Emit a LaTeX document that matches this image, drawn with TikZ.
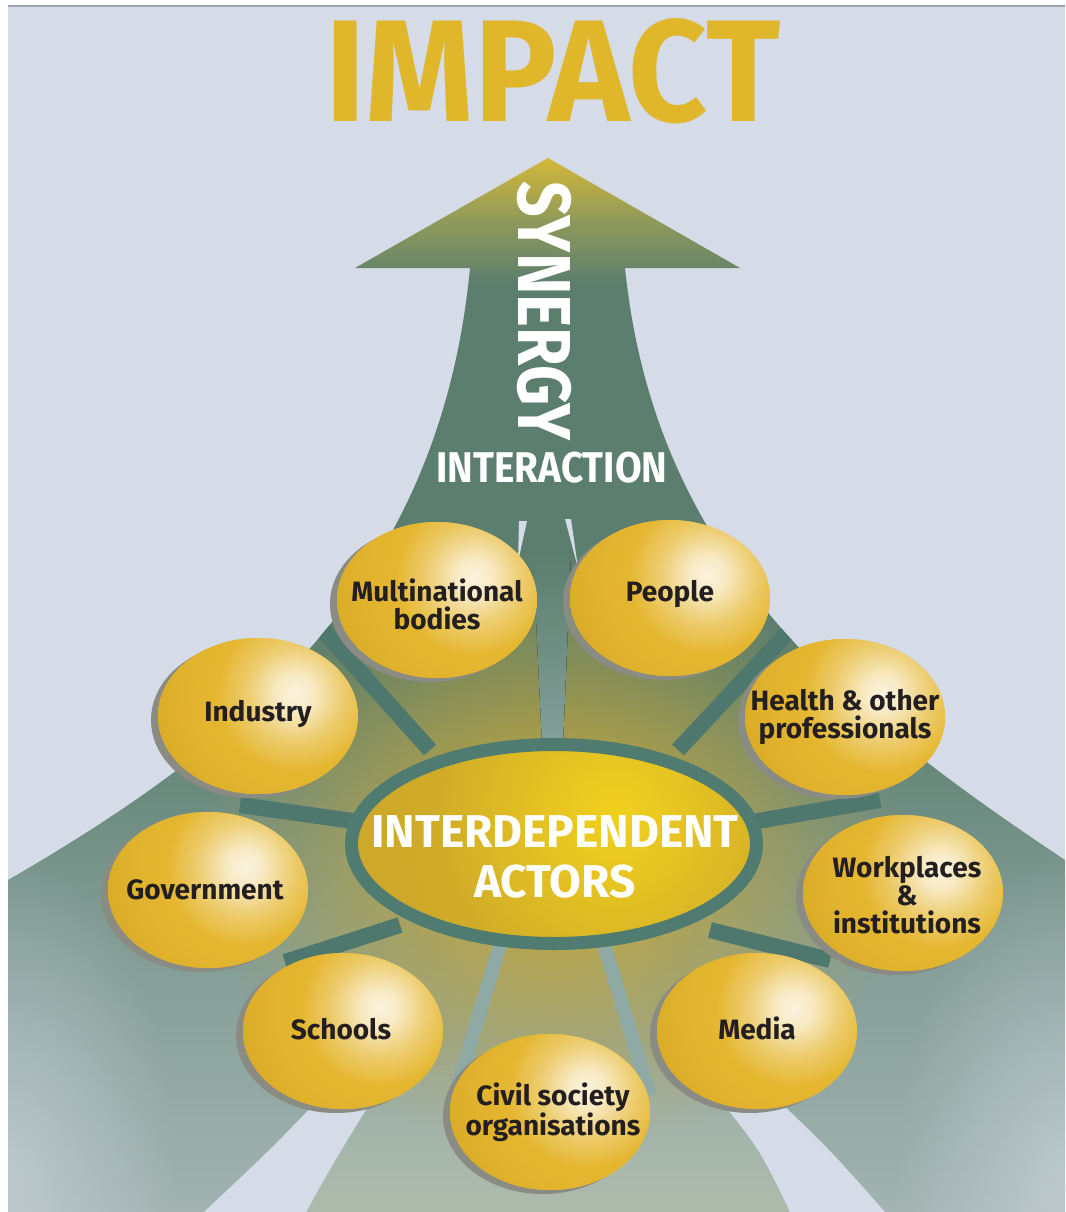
\documentclass[tikz,border=0pt]{standalone}
\usepackage{fontspec}
\setmainfont{Fira Sans}
\usetikzlibrary{fadings,shadows,shapes.geometric}

\definecolor{bgblue}{HTML}{D5DCE8}
\definecolor{edgegrey}{HTML}{9CA3B2}
\definecolor{teal}{HTML}{5B7E6F}
\definecolor{spoketeal}{HTML}{4E786E}
\definecolor{lightspoke}{HTML}{8FA9A4}
\definecolor{fanmid}{HTML}{7F9A92}
\definecolor{fanlow}{HTML}{A2B3B1}
\definecolor{midlane}{HTML}{ADBBAB}
\definecolor{olive}{HTML}{8F9A5A}
\definecolor{tipgold}{HTML}{D3B83A}
\definecolor{glowgold}{HTML}{CDAA32}
\definecolor{impactgold}{HTML}{E0B62B}
\definecolor{bubmid}{HTML}{E5B731}
\definecolor{bubedge}{HTML}{D8A924}
\definecolor{bubhi}{HTML}{FBF3DE}
\definecolor{shadowgrey}{HTML}{8A8C84}
\definecolor{ringteal}{HTML}{4F7B71}
\definecolor{coregold}{HTML}{CBA52A}
\definecolor{corehi}{HTML}{F0D01E}
\definecolor{ink}{HTML}{231F20}

% colour run of the arrow and its fan, tip at the top
\pgfdeclareverticalshading{fanshade}{100bp}{%
  color(0bp)=(fanlow); color(25bp)=(fanlow); color(39bp)=(fanmid);
  color(50bp)=(teal); color(69bp)=(teal); color(72bp)=(olive);
  color(75bp)=(tipgold); color(100bp)=(tipgold)}

% shine on the gold balls: bright spot fading into gold
\pgfdeclareradialshading{bubshade}{\pgfpoint{0bp}{0bp}}{%
  color(0bp)=(bubhi); color(3bp)=(bubhi!85!bubmid); color(8bp)=(bubhi!35!bubmid);
  color(13bp)=(bubmid); color(20bp)=(bubmid!60!bubedge); color(25bp)=(bubedge);
  color(50bp)=(bubedge)}

% yellow shine on the hub
\pgfdeclareradialshading{hubshade}{\pgfpoint{0bp}{0bp}}{%
  color(0bp)=(corehi); color(6bp)=(corehi!70!coregold); color(15bp)=(coregold!85!corehi);
  color(25bp)=(coregold); color(50bp)=(coregold)}

\tikzfading[name=glowfade, inner color=transparent!0, outer color=transparent!100]
\tikzfading[name=fadeup, top color=transparent!100, bottom color=transparent!0]

\newcommand{\fanoutline}{(8,1212) -- (8,880) .. controls (250,740) and (440,580) .. (470,268)
  -- (355,268) -- (548,158) -- (740,268) -- (625,268)
  .. controls (655,560) and (840,710) .. (1065,860) -- (1065,1212) -- cycle}

\tikzset{
  bubble/.style={ellipse, minimum width=200pt, minimum height=156pt, inner sep=0pt,
    fill=bubmid,
    drop shadow={shadow xshift=-7pt, shadow yshift=-4pt, fill=shadowgrey, opacity=1},
    path picture={\path[shading=bubshade]
      ([xshift=37pt,yshift=23pt]path picture bounding box.center) circle (150pt);}},
  bubbletext/.style={align=center, text=ink, inner sep=0pt,
    font=\bfseries\fontsize{28}{28}\selectfont},
  spoke/.style={draw=spoketeal, line width=16pt, line cap=butt},
  softspoke/.style={draw=lightspoke, line width=14pt, line cap=butt},
  gap/.style={fill=bgblue},
  headline/.style={text=white, font=\bfseries}
}

\begin{document}
\begin{tikzpicture}[x=1pt,y=-1pt]
\useasboundingbox (0,0) rectangle (1065,1212);
\fill[white] (0,0) rectangle (1065,1212);
\fill[bgblue] (8,6) rectangle (1065,1212);
\draw[edgegrey, line width=1.2pt] (8,6) -- (1065,6);

% the arrow with its widening fan of lanes
\path[shading=fanshade] \fanoutline;

\begin{scope}
  \clip \fanoutline;
  % paler outer edges of the side lanes
  \fill[bgblue, path fading=glowfade, fill opacity=0.55] (8,1180) ellipse (170 and 330);
  \fill[bgblue, path fading=glowfade, fill opacity=0.55] (1065,1180) ellipse (170 and 330);
  % greener middle lane
  \fill[midlane, path fading=fadeup] (372,1040) -- (720,1040) -- (720,1100)
    .. controls (760,1150) .. (790,1212) -- (306,1212)
    .. controls (335,1160) .. (372,1100) -- cycle;
  % gold light spreading from the actors
  \fill[glowgold, path fading=glowfade] (555,850) ellipse (350 and 300);
  % dark spokes between the lanes
  \draw[spoke] (430,750) -- (318,625);
  \draw[spoke] (360,822) -- (240,805);
  \draw[spoke] (400,925) -- (285,962);
  \draw[spoke] (710,930) -- (830,960);
  \draw[spoke] (752,822) -- (880,800);
  \draw[spoke] (678,750) -- (790,630);
  \draw[softspoke] (500,945) -- (455,1095);
  \draw[softspoke] (604,945) -- (650,1095);
  % middle lane running down to the actors
  \fill[top color=teal, bottom color=lightspoke!80!teal]
    (533,555) -- (571,555) -- (563,745) -- (542,745) -- cycle;
  % light gaps between the lanes
  \fill[gap] (318,1100) .. controls (270,1150) .. (204,1212) -- (306,1212)
    .. controls (335,1160) .. (372,1100) -- cycle;
  \fill[gap] (720,1100) .. controls (760,1150) .. (790,1212) -- (885,1212)
    .. controls (830,1150) .. (778,1100) -- cycle;
  \fill[gap] (519,521) -- (527,521) -- (518,562) -- cycle;
  \fill[gap] (565,519) -- (571,519) -- (578,568) -- cycle;
\end{scope}

% titles
\node[anchor=base, text=impactgold, font=\bfseries\fontsize{145}{145}\selectfont]
  (impact) at (553,122) {\scalebox{0.95}[1]{IMPACT}};
\node[headline, rotate=-90, font=\bfseries\fontsize{75}{75}\selectfont]
  (synergy) at (544,311) {\scalebox{0.833}[1]{SYNERGY}};
\node[headline, anchor=base, font=\bfseries\fontsize{43}{43}\selectfont]
  (interaction) at (552,482) {\scalebox{0.9}[1]{INTERACTION}};

% the interdependent actors at the hub
\node[ellipse, minimum width=405pt, minimum height=199pt, draw=ringteal, line width=13pt,
  fill=coregold,
  path picture={\path[shading=hubshade]
    ([xshift=61pt,yshift=29pt]path picture bounding box.center) circle (300pt);}]
  (hub) at (554,844) {};
\node[headline, align=center, font=\bfseries\fontsize{46}{50}\selectfont]
  (hubtext) at (555,857) {INTERDEPENDENT\\ACTORS};

% the actors around the hub
\node[bubble] (multi) at (437,600) {};
\node[bubble] (people) at (670,598) {};
\node[bubble] (industry) at (258,716) {};
\node[bubble] (health) at (845,717) {};
\node[bubble] (gov) at (208,890) {};
\node[bubble] (work) at (903,893) {};
\node[bubble] (schools) at (343,1031) {};
\node[bubble] (media) at (757,1031) {};
\node[bubble] (civil) at (550,1112) {};

\node[bubbletext] (multi-t) at ([yshift=-4pt]multi) {Multinational\\bodies};
\node[bubbletext] (people-t) at ([yshift=4pt]people) {People};
\node[bubbletext] (industry-t) at ([yshift=2pt]industry) {Industry};
\node[bubbletext] (health-t) at (health) {Health \& other\\professionals};
\node[bubbletext] (gov-t) at ([xshift=-3pt]gov) {Government};
\node[bubbletext] (work-t) at ([xshift=4pt,yshift=-2pt]work) {Workplaces\\\&\\institutions};
\node[bubbletext] (schools-t) at ([xshift=-2pt,yshift=2pt]schools) {Schools};
\node[bubbletext] (media-t) at ([yshift=3pt]media) {Media};
\node[bubbletext] (civil-t) at ([xshift=3pt]civil) {Civil society\\organisations};
\end{tikzpicture}
\end{document}
